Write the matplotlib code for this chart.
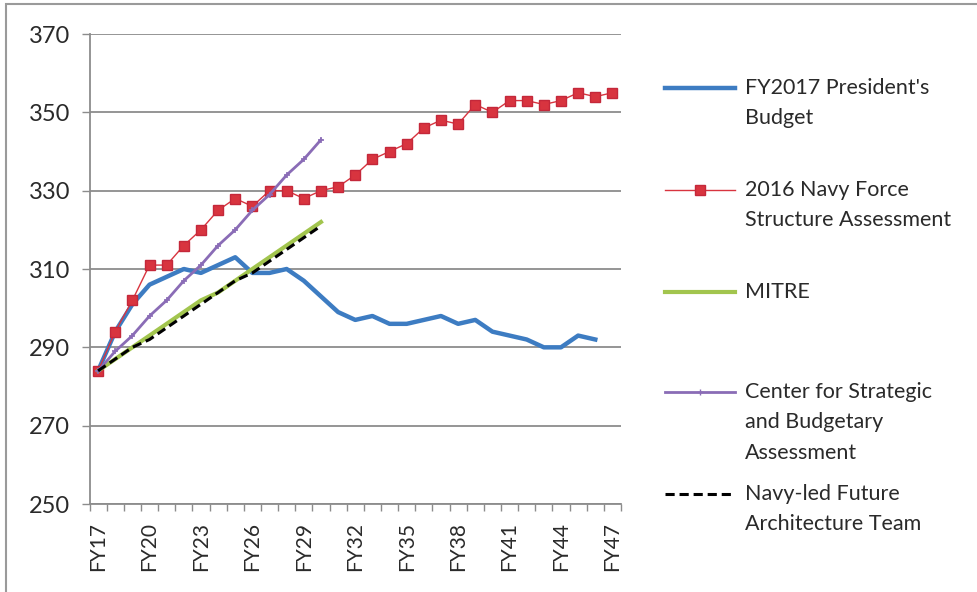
import numpy as np
import matplotlib
matplotlib.use("Agg")
import matplotlib.pyplot as plt
from matplotlib.lines import Line2D
from matplotlib.patches import Rectangle

plt.rcParams['font.family'] = ['Lato', 'DejaVu Sans']

# category axis
years = ['FY%d' % y for y in range(17, 48)]

# ship counts
pres_budget = [284, 294, 301, 306, 308, 310, 309, 311, 313, 309, 309, 310, 307, 303,
               299, 297, 298, 296, 296, 297, 298, 296, 297, 294, 293, 292, 290, 290,
               293, 292]
navy_fsa = [284, 294, 302, 311, 311, 316, 320, 325, 328, 326, 330, 330, 328, 330,
            331, 334, 338, 340, 342, 346, 348, 347, 352, 350, 353, 353, 352, 353,
            355, 354, 355]
mitre = [284, 287, 290, 293, 296, 299, 302, 304, 307, 310, 313, 316, 319, 322]
csba = [284, 289, 293, 298, 302, 307, 311, 316, 320, 325, 329, 334, 338, 343]
navy_fat = [284, 287, 290, 292, 295, 298, 301, 304, 307, 309, 312, 315, 318, 321]

legend_labels = ["FY2017 President's\nBudget",
                 "2016 Navy Force\nStructure Assessment",
                 "MITRE",
                 "Center for Strategic\nand Budgetary\nAssessment",
                 "Navy-led Future\nArchitecture Team"]

W, H = 977, 592
fig = plt.figure(figsize=(W / 100, H / 100), dpi=100)


def px(x, y):
    return x / W, 1 - y / H


# plot area
ax = fig.add_axes([89.5 / W, 1 - 504 / H, 531.5 / W, 470 / H])

blue = '#3d7cc2'
red = '#d8343f'
green = '#a2c54e'
purple = '#8a6cb6'
grid_c = '#8c8c8c'
txt_c = '#2a2a2a'

ax.plot(range(len(pres_budget)), pres_budget, color=blue, lw=3.2, solid_joinstyle='round', zorder=3)
ax.plot(range(len(navy_fsa)), navy_fsa, color=red, lw=1.0, marker='s', ms=7.5,
        mfc=red, mec='#c4283a', zorder=4)
ax.plot(range(len(mitre)), mitre, color=green, lw=3.0, zorder=5)
ax.plot(range(len(csba)), csba, color=purple, lw=2.0, marker='+', ms=5, mew=1.2, zorder=6)
ax.plot(range(len(navy_fat)), navy_fat, color='black', lw=2.2, ls=(0, (3, 1.6)), zorder=7)

ax.set_xlim(-0.5, len(years) - 0.5)
ax.set_ylim(250, 370)
ax.set_yticks(range(250, 371, 20))
ax.yaxis.grid(True, color=grid_c, lw=1.3)
ax.set_axisbelow(True)

ax.set_xticks(range(0, len(years), 3))
ax.set_xticklabels(years[::3], rotation=90, fontsize=15, color=txt_c)
ax.set_xticks(np.arange(-0.5, len(years), 1), minor=True)
ax.tick_params(axis='x', which='major', length=0, pad=13)
ax.tick_params(axis='x', which='minor', length=5, width=1, color=grid_c, direction='out')
ax.tick_params(axis='y', length=5.8, width=1, color=grid_c, labelsize=17, labelcolor=txt_c, pad=8)

for s in ['top', 'right']:
    ax.spines[s].set_visible(False)
for s in ['left', 'bottom']:
    ax.spines[s].set_color(grid_c)
    ax.spines[s].set_linewidth(1.3)

# legend drawn by hand so handles line up with the first text line
handles = [dict(color=blue, lw=3.2),
           dict(color=red, lw=1.0, marker='s', ms=7.5, mfc=red, mec='#c4283a', markevery=[1]),
           dict(color=green, lw=3.0),
           dict(color=purple, lw=2.0, marker='+', ms=5, markevery=[1]),
           dict(color='black', lw=2.2, ls=(0, (3, 1.6)))]
entry_y = [88, 190, 292, 392, 494]
for lab, hd, yy in zip(legend_labels, handles, entry_y):
    x0, y0 = px(665, yy)
    x1, _ = px(735, yy)
    fig.add_artist(Line2D([x0, (x0 + x1) / 2, x1], [y0, y0, y0], transform=fig.transFigure, **hd))
    for i, line in enumerate(lab.split('\n')):
        tx, ty = px(745, yy + i * 30.5)
        fig.text(tx, ty, line, fontsize=15.5, color=txt_c, va='center', ha='left')

# outer chart border (left/top visible)
fig.add_artist(Rectangle(px(6, 620), (990 - 6) / W, (620 - 4) / H, transform=fig.transFigure,
                         fill=False, ec='#9a9a9a', lw=1.5))

fig.savefig('out.png', dpi=100, facecolor='white')
